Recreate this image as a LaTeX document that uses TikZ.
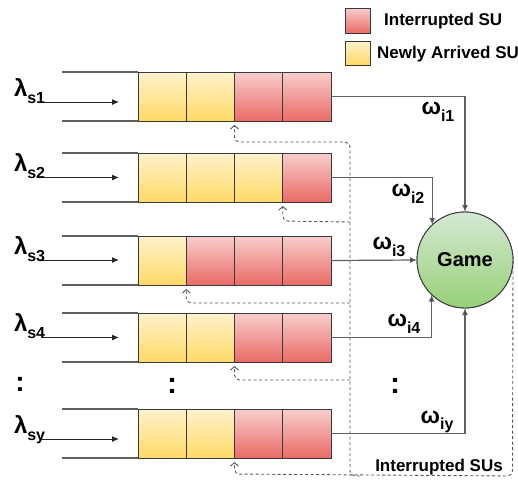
\documentclass[tikz,border=0pt]{standalone}
\usepackage{fontspec}
\setmainfont{Liberation Sans}
\usetikzlibrary{arrows.meta,calc}
\definecolor{ytop}{HTML}{FFF2CC}
\definecolor{ybot}{HTML}{FFD966}
\definecolor{rtop}{HTML}{F8CECC}
\definecolor{rbot}{HTML}{EA6B66}
\definecolor{gtop}{HTML}{D5E8D4}
\definecolor{gbot}{HTML}{97D077}
\definecolor{celledge}{HTML}{36393D}
\definecolor{linegray}{HTML}{606060}
\definecolor{dashgray}{HTML}{555555}
\newcommand\lsub[1]{\raisebox{-0.3em}{\fontsize{16}{16}\selectfont #1}}
\newcommand\lam[1]{{\fontsize{24}{24}\selectfont\bfseries λ\lsub{#1}}}
\newcommand\omg[1]{{\fontsize{23}{23}\selectfont\bfseries ω\lsub{#1}}}
\tikzset{
  cellbase/.style={draw=celledge, line width=0.9pt, minimum width=48.25pt, minimum height=49pt, inner sep=0pt, outer sep=0pt},
  celly/.style={cellbase, top color=ytop, bottom color=ybot},
  cellr/.style={cellbase, top color=rtop, bottom color=rbot},
  qline/.style={draw=linegray, line width=1.1pt},
  inarrow/.style={draw=black!85, line width=1pt, -{Latex[length=7pt,width=6pt]}},
  outarrow/.style={draw=linegray, line width=1.2pt, -{Latex[length=7pt,width=6pt,fill=black!85]}},
  backarrow/.style={draw=dashgray, line width=0.9pt, dash pattern=on 3pt off 2.5pt, rounded corners=5pt},
  backtip/.style={backarrow, -{Straight Barb[length=3.5pt,width=8pt,line width=0.9pt]}},
  lbl/.style={inner sep=0pt, outer sep=0pt},
  legtext/.style={inner sep=0pt, font=\fontsize{17}{17}\selectfont\bfseries},
  colon/.style={inner sep=0pt},
  gamestyle/.style={draw=celledge, line width=0.9pt, circle, minimum size=96pt, inner sep=0pt, outer sep=0pt, top color=gtop, bottom color=gbot, font=\fontsize{20}{20}\selectfont\bfseries},
}
\begin{document}
\begin{tikzpicture}[x=1pt,y=-1pt]
\useasboundingbox (0,0) rectangle (518,483);
% legend
\node[cellr, minimum width=25pt, minimum height=25pt, anchor=north west] (legr) at (345,8) {};
\node[celly, minimum width=25pt, minimum height=24pt, anchor=north west] (legy) at (345,41) {};
\node[legtext, anchor=west] (legrt) at (384,21) {Interrupted SU};
\node[legtext, anchor=west] (legyt) at (377,54) {Newly Arrived SU};
% game
\coordinate (gc) at (465,260);
\node[gamestyle] (game) at (gc) {};
% queues
\foreach \n/\t/\ay/\a/\b/\c/\d in {1/72/102/y/y/r/r, 2/153/177.5/y/y/y/r, 3/236/260/y/r/r/r, 4/313/337.5/y/y/r/r, y/409/439/y/y/r/r}{
  \node[cell\a] (q\n c1) at (162.1,{\t+24.5}) {};
  \node[cell\b] (q\n c2) at (210.4,{\t+24.5}) {};
  \node[cell\c] (q\n c3) at (258.6,{\t+24.5}) {};
  \node[cell\d] (q\n c4) at (306.9,{\t+24.5}) {};
  \coordinate (q\n tl) at (62,\t);
  \coordinate (q\n bl) at (62,{\t+49});
  \draw[qline] (q\n tl) -- (q\n c1.north west);
  \draw[qline] (q\n bl) -- (q\n c1.south west);
  \coordinate (in\n a) at (42,\ay);
  \coordinate (in\n b) at (119,\ay);
  \draw[inarrow] (in\n a) -- (in\n b);
  \node[lbl, anchor=base west] (lam\n) at (14,{\ay-6}) {\lam{s\n}};
}
% feedback (dashed)
\coordinate (t1) at ($(q1c3.south west)+(0,4)$);
\coordinate (t2) at ($(q2c4.south west)+(0,4)$);
\coordinate (t3) at ($(q3c2.south west)+(0,4)$);
\coordinate (t4) at ($(q4c3.south west)+(0,4)$);
\coordinate (ty) at ($(qyc3.south west)+(0,4)$);
\coordinate (br) at (512.5,476);
\coordinate (bm) at (350,476);
\coordinate (tm) at (350,142);
\draw[backtip] (game.east) -- (br) -- ($(ty)+(0,12)$) -- (ty);
\draw[backtip] ($(bm)+(10,0)$) -- (bm) -- (tm) -- ($(t1)+(0,17)$) -- (t1);
\draw[backtip] (350,222) -- ($(t2)+(0,15)$) -- (t2);
\draw[backtip] (350,303) -- ($(t3)+(0,14)$) -- (t3);
\draw[backtip] (350,380) -- ($(t4)+(0,14)$) -- (t4);
\node[legtext, anchor=center] (isus) at (439,467) {Interrupted SUs};
% game circle on top of the dashed start
\node[gamestyle] (game2) at (gc) {Game};
% outputs
\draw[outarrow] (q1c4.east) -| (game2.north);
\draw[outarrow] (q2c4.east) -| (game2.133.6);
\draw[outarrow] (q3c4.east) -- (game2.west);
\draw[outarrow] (q4c4.east) -| (game2.226.4);
\draw[outarrow] (qyc4.east) -| (game2.south);
\node[lbl] (w1) at (438,112) {\omg{i1}};
\node[lbl] (w2) at (408,194) {\omg{i2}};
\node[lbl] (w3) at (389,247) {\omg{i3}};
\node[lbl] (w4) at (404,324) {\omg{i4}};
\node[lbl] (wy) at (437,422) {\omg{iy}};
% ellipsis
\node[colon, font=\fontsize{28}{28}\selectfont\bfseries] (dl) at (20,384) {:};
\node[colon, font=\fontsize{30}{30}\selectfont\bfseries] (dm) at (172,386) {:};
\node[colon, font=\fontsize{30}{30}\selectfont\bfseries] (dr) at (395,386) {:};
\end{tikzpicture}
\end{document}
